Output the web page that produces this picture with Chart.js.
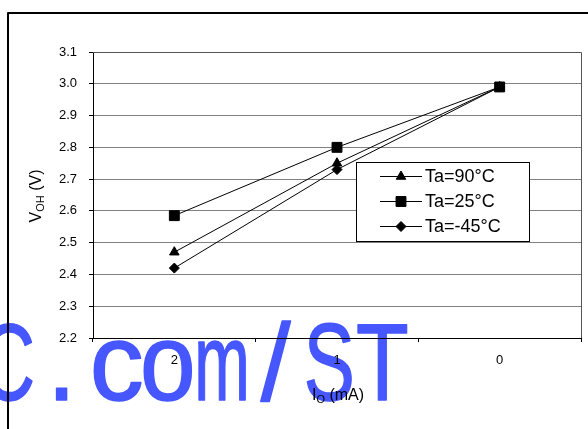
<!DOCTYPE html>
<html>
<head>
<meta charset="utf-8">
<script src="https://cdn.jsdelivr.net/npm/chart.js@4.4.0/dist/chart.umd.min.js"></script>
<style>
  html, body { margin: 0; padding: 0; background: #fff; }
  #wrap { width: 588px; height: 429px; }
</style>
</head>
<body>
<div id="wrap"><canvas id="chart" width="588" height="429"></canvas></div>
<script>
// Output current (mA) categories and VOH readings per temperature
const currentLabels = ['2', '1', '0'];
const vohHot = [2.47, 2.75, 2.99];
const vohRoom = [2.585, 2.80, 2.99];
const vohCold = [2.42, 2.73, 2.99];
const seriesNames = ['Ta=90°C', 'Ta=25°C', 'Ta=-45°C'];
const yTicks = [2.2, 2.3, 2.4, 2.5, 2.6, 2.7, 2.8, 2.9, 3.0, 3.1];

// watermark text, one char per cell
const wmChars = ['C', '.', 'c', 'o', 'm', '/', 'S', 'T'];
const wmLeft = [-17, 55, 93, 143, 198, 260, 306, 357];
const wmWidth = [50, 13, 49, 50, 48, 32, 46, 51];

const FONT = 'Arial, "Liberation Sans", sans-serif';
Chart.defaults.font.family = FONT;
Chart.defaults.font.size = 13;
Chart.defaults.color = '#000';

function marker(ctx, style, x, y, r) {
    ctx.beginPath();
    if (style === 'triangle') {
        ctx.moveTo(x, y - r);
        ctx.lineTo(x + r * 0.866, y + r * 0.5);
        ctx.lineTo(x - r * 0.866, y + r * 0.5);
    } else if (style === 'rect') {
        const s = r * Math.SQRT1_2;
        ctx.rect(x - s, y - s, 2 * s, 2 * s);
    } else {
        ctx.moveTo(x, y - r);
        ctx.lineTo(x + r, y);
        ctx.lineTo(x, y + r);
        ctx.lineTo(x - r, y);
    }
    ctx.closePath();
    ctx.fill();
    ctx.stroke();
}

const backdrop = {
    id: 'backdrop',
    beforeDraw(chart) {
        const ctx = chart.ctx;
        ctx.save();
        ctx.fillStyle = '#fff';
        ctx.fillRect(0, 0, chart.width, chart.height);

        // watermark
        ctx.fillStyle = '#4657ff';
        ctx.strokeStyle = '#4657ff';
        ctx.lineWidth = 1.5;
        ctx.lineJoin = 'round';
        ctx.font = '109px ' + FONT;
        ctx.textBaseline = 'alphabetic';
        ctx.textAlign = 'left';
        wmChars.forEach((ch, i) => {
            const m = ctx.measureText(ch);
            const ink = m.actualBoundingBoxLeft + m.actualBoundingBoxRight + 1.5;
            ctx.save();
            ctx.translate(wmLeft[i], 400);
            ctx.scale(wmWidth[i] / ink, 1);
            ctx.fillText(ch, m.actualBoundingBoxLeft + 0.75, -0.5);
            ctx.strokeText(ch, m.actualBoundingBoxLeft + 0.75, -0.5);
            ctx.restore();
        });

        // outer frame
        ctx.strokeStyle = '#000';
        ctx.lineWidth = 2;
        ctx.strokeRect(8, 13, 700, 600);
        ctx.restore();
    }
};

const decorations = {
    id: 'decorations',
    afterDraw(chart) {
        const ctx = chart.ctx;
        const area = chart.chartArea;
        ctx.save();

        // plot box top/right
        ctx.strokeStyle = '#555';
        ctx.lineWidth = 1;
        ctx.beginPath();
        ctx.moveTo(area.left, Math.round(area.top) + 0.5);
        ctx.lineTo(Math.round(area.right) + 0.5, Math.round(area.top) + 0.5);
        ctx.lineTo(Math.round(area.right) + 0.5, area.bottom);
        ctx.stroke();

        // legend box
        ctx.fillStyle = '#fff';
        ctx.fillRect(356.5, 162.5, 173, 79);
        ctx.strokeStyle = '#000';
        ctx.strokeRect(356.5, 162.5, 173, 79);
        ctx.font = '18px ' + FONT;
        ctx.textBaseline = 'middle';
        ctx.textAlign = 'left';
        chart.data.datasets.forEach((ds, i) => {
            const y = 176.5 + i * 25;
            ctx.strokeStyle = '#000';
            ctx.fillStyle = '#000';
            ctx.beginPath();
            ctx.moveTo(380, y);
            ctx.lineTo(422, y);
            ctx.stroke();
            marker(ctx, ds.pointStyle, 401, y, ds.pointRadius);
            ctx.fillText(ds.label, 425, y + 1);
        });

        // x axis title I_O (mA)
        ctx.fillStyle = '#000';
        ctx.textBaseline = 'alphabetic';
        const big = '16px ' + FONT, small = '11px ' + FONT;
        ctx.font = big;
        const wI = ctx.measureText('I').width;
        const wRest = ctx.measureText(' (mA)').width;
        ctx.font = small;
        const wO = ctx.measureText('O').width;
        let x = 338 - (wI + wO + wRest) / 2;
        ctx.font = big; ctx.fillText('I', x, 400); x += wI;
        ctx.font = small; ctx.fillText('O', x, 403); x += wO;
        ctx.font = big; ctx.fillText(' (mA)', x, 400);

        // y axis title V_OH (V)
        ctx.save();
        ctx.translate(35, 196);
        ctx.rotate(-Math.PI / 2);
        ctx.font = big;
        const wV = ctx.measureText('V').width;
        const wV2 = ctx.measureText(' (V)').width;
        ctx.font = small;
        const wOH = ctx.measureText('OH').width;
        x = -(wV + wOH + wV2) / 2;
        ctx.font = big; ctx.fillText('V', x, 6); x += wV;
        ctx.font = small; ctx.fillText('OH', x, 9); x += wOH;
        ctx.font = big; ctx.fillText(' (V)', x, 6);
        ctx.restore();

        ctx.restore();
    }
};

function series(label, data, style, radius) {
    return {
        label: label,
        data: data,
        borderColor: '#000',
        backgroundColor: '#000',
        borderWidth: 1,
        pointStyle: style,
        pointRadius: radius,
        pointBorderWidth: 1,
        pointBorderColor: '#000',
        pointBackgroundColor: '#000',
        tension: 0,
        fill: false
    };
}

new Chart(document.getElementById('chart'), {
    type: 'line',
    data: {
        labels: currentLabels,
        datasets: [
            series(seriesNames[0], vohHot, 'triangle', 5.5),
            series(seriesNames[1], vohRoom, 'rect', 7),
            series(seriesNames[2], vohCold, 'rectRot', 5)
        ]
    },
    options: {
        responsive: false,
        animation: false,
        devicePixelRatio: 1,
        events: [],
        layout: { autoPadding: false, padding: { left: 0, top: 52, right: 7, bottom: 0 } },
        plugins: {
            legend: { display: false },
            tooltip: { enabled: false },
            title: { display: false }
        },
        scales: {
            x: {
                type: 'category',
                offset: true,
                grid: { offset: true, drawOnChartArea: false, color: '#000', tickLength: 4 },
                border: { color: '#000', width: 1 },
                ticks: { color: '#000', font: { size: 13 }, padding: 11, maxRotation: 0 },
                afterFit: s => { s.height = 91; }
            },
            y: {
                min: 2.2,
                max: 3.1,
                grid: { color: '#808080', tickLength: 4, tickColor: '#000' },
                border: { color: '#000', width: 1 },
                ticks: {
                    color: '#000',
                    font: { size: 13 },
                    padding: 12,
                    callback: v => Number(v).toFixed(1)
                },
                afterBuildTicks: s => { s.ticks = yTicks.map(v => ({ value: v })); },
                afterFit: s => { s.width = 93; }
            }
        }
    },
    plugins: [backdrop, decorations]
});
</script>
</body>
</html>
